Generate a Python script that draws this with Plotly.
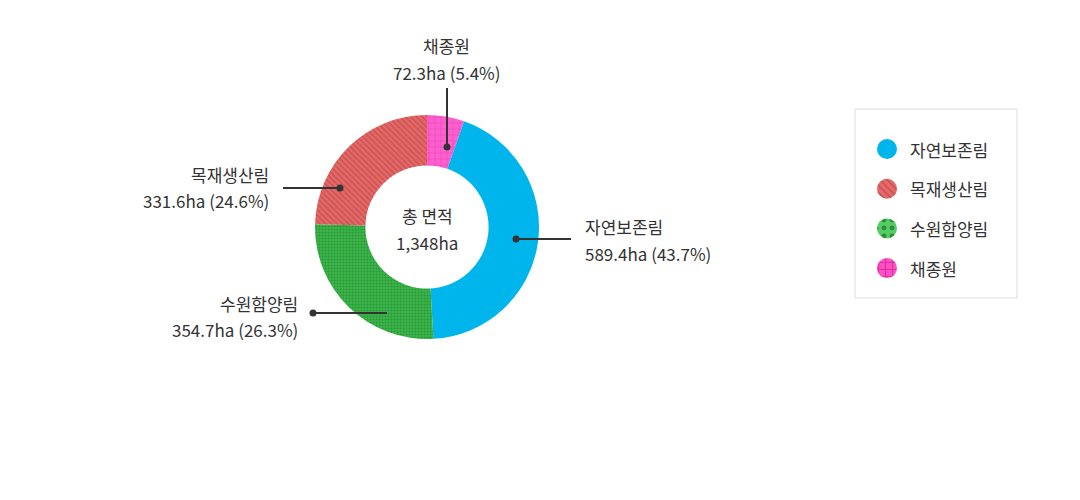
import plotly.graph_objects as go

# data
categories = ['자연보존림', '목재생산림', '수원함양림', '채종원']
areas_ha = [589.4, 331.6, 354.7, 72.3]
total_label = '총 면적'
total_text = '1,348ha'

# clockwise order of slices from 12 o'clock
pie_order = [3, 0, 2, 1]

W, H = 1080, 500
FONT = 'Noto Sans CJK KR'
TXT = '#333333'
FS = 17

bg = ['#00b4ec', '#e36a68', '#3cb54a', '#ff5fcf']
fg = ['#00b4ec', '#c94f50', '#2a9637', '#e03fae']
shapes_pat = ['', '\\', '.', '+']
pat_size = [4, 4, 3, 6]
pat_sol = [0.3, 0.35, 0.35, 0.15]


def px(x):
    return x / W


def py(y):
    return 1 - y / H


def label(fig, x, y, text, anchor='center', size=FS):
    fig.add_annotation(x=px(x), y=py(y), xref='paper', yref='paper',
                       text=text, showarrow=False, xanchor=anchor, yanchor='middle',
                       font=dict(family=FONT, size=size, color=TXT))


total = sum(areas_ha)
pcts = [a / total * 100 for a in areas_ha]

fig = go.Figure()

fig.add_trace(go.Pie(
    labels=[categories[i] for i in pie_order],
    values=[areas_ha[i] for i in pie_order],
    sort=False,
    direction='clockwise',
    rotation=0,
    hole=0.55,
    textinfo='none',
    hoverinfo='label+value+percent',
    showlegend=False,
    marker=dict(
        colors=[bg[i] for i in pie_order],
        line=dict(width=0),
        pattern=dict(
            shape=[shapes_pat[i] for i in pie_order],
            fgcolor=[fg[i] for i in pie_order],
            bgcolor=[bg[i] for i in pie_order],
            size=[pat_size[i] for i in pie_order],
            solidity=[pat_sol[i] for i in pie_order],
            fillmode='replace',
        ),
    ),
    domain=dict(x=[px(315), px(539)], y=[py(339), py(115)]),
))

# legend: small one-slice pies as patterned circles
leg_pat_size = [4, 5, 8, 7]
leg_fg = ['#00b4ec', '#c94f50', '#2a8f36', '#d8309f']
leg_bg = ['#00b4ec', '#e36a68', '#55cc66', '#ff4fc4']
for i, name in enumerate(categories):
    cy = 149 + i * 39.7
    fig.add_trace(go.Pie(
        labels=[name], values=[1], textinfo='none', hoverinfo='label',
        showlegend=False, sort=False,
        marker=dict(
            colors=[leg_bg[i]], line=dict(width=0),
            pattern=dict(shape=[shapes_pat[i]], fgcolor=[leg_fg[i]],
                         bgcolor=[leg_bg[i]], size=[leg_pat_size[i]],
                         solidity=[0.3], fillmode='replace'),
        ),
        domain=dict(x=[px(877), px(897)], y=[py(cy + 10), py(cy - 10)]),
    ))
    label(fig, 908, cy, name, 'left')

shapes = [dict(type='rect', xref='paper', yref='paper',
               x0=px(855), x1=px(1017), y0=py(298), y1=py(109),
               line=dict(color='#dddddd', width=1), fillcolor='rgba(0,0,0,0)')]

# callouts: (line x0, y0, x1, y1, dot x, dot y, text x, first line y, anchor)
callouts = {
    0: (516, 239, 571, 239, 516, 239, 583, 227, 'left'),
    1: (283, 188, 340, 188, 340, 188, 271, 174, 'right'),
    2: (313, 313, 387, 313, 313, 313, 300, 303, 'right'),
    3: (447, 88, 447, 147, 447, 147, 447, 46, 'center'),
}
for i, (x0, y0, x1, y1, dx, dy, tx, ty, anc) in callouts.items():
    shapes.append(dict(type='line', xref='paper', yref='paper',
                       x0=px(x0), y0=py(y0), x1=px(x1), y1=py(y1),
                       line=dict(color='#333333', width=2)))
    shapes.append(dict(type='circle', xref='paper', yref='paper',
                       x0=px(dx - 3.5), x1=px(dx + 3.5), y0=py(dy + 3.5), y1=py(dy - 3.5),
                       fillcolor='#333333', line=dict(width=0)))
    label(fig, tx, ty, categories[i], anc)
    label(fig, tx, ty + 26, f'{areas_ha[i]:.1f}ha ({pcts[i]:.1f}%)', anc)

label(fig, 427, 216, total_label)
label(fig, 427, 242, total_text)

fig.update_layout(
    width=W, height=H,
    margin=dict(l=0, r=0, t=0, b=0),
    paper_bgcolor='white',
    plot_bgcolor='white',
    shapes=shapes,
    font=dict(family=FONT, color=TXT),
)

fig.write_html('out.html', config={'displayModeBar': False},
               post_script="document.body.style.margin='0';")
